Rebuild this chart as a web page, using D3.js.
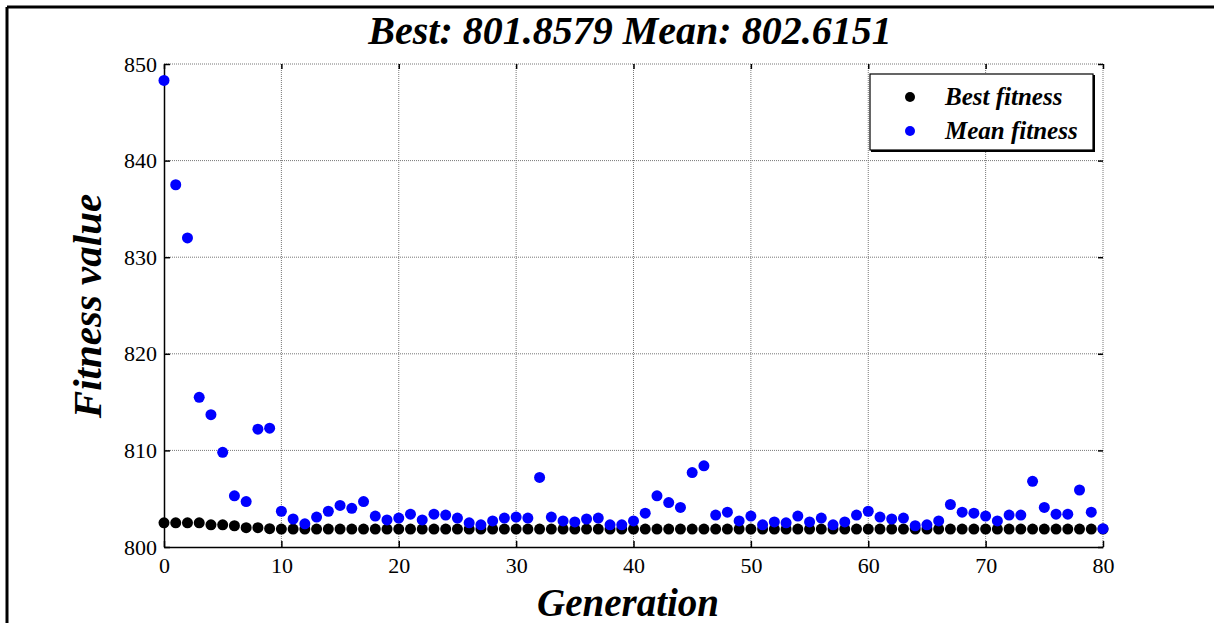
<!DOCTYPE html>
<html>
<head>
<meta charset="utf-8">
<script src="https://cdn.jsdelivr.net/npm/d3@7"></script>
<style>
  body { margin: 0; background: #fff; }
  svg text { font-family: "Liberation Serif", "DejaVu Serif", serif; }
</style>
</head>
<body>
<div id="chart"></div>
<script>
let W = 1214, H = 623;

// generations 0..80
let generations = d3.range(0, 81);
let bestFitness = [802.5, 802.5, 802.5, 802.5, 802.3, 802.3, 802.2, 802.0, 802.0, 801.9]
    .concat(d3.range(10, 81).map(() => 801.86));
let meanFitness = [
    848.3, 837.5, 832.0, 815.5, 813.7, 809.8, 805.3, 804.7, 812.2, 812.3,
    803.7, 802.9, 802.4, 803.1, 803.7, 804.3, 804.0, 804.7, 803.2, 802.8,
    803.0, 803.4, 802.8, 803.4, 803.3, 803.0, 802.5, 802.3, 802.7, 803.0,
    803.1, 803.0, 807.2, 803.1, 802.7, 802.6, 802.9, 803.0, 802.3, 802.3,
    802.7, 803.5, 805.3, 804.6, 804.1, 807.7, 808.4, 803.3, 803.6, 802.7,
    803.2, 802.3, 802.6, 802.5, 803.2, 802.6, 803.0, 802.3, 802.6, 803.3,
    803.7, 803.1, 802.9, 803.0, 802.2, 802.3, 802.7, 804.4, 803.6, 803.5,
    803.2, 802.7, 803.3, 803.3, 806.8, 804.1, 803.4, 803.4, 805.9, 803.6,
    801.9
];
let xTicks = [0, 10, 20, 30, 40, 50, 60, 70, 80];
let yTicks = [800, 810, 820, 830, 840, 850];

let serif = "'Liberation Serif', 'DejaVu Serif', serif";
let pLeft = 164, pRight = 1103, pTop = 64, pBottom = 547;

let svg = d3.select("#chart").append("svg")
    .attr("width", W).attr("height", H);

// outer frame (top and left only visible)
svg.append("line").attr("x1", 7).attr("y1", 7).attr("x2", W).attr("y2", 7)
    .attr("stroke", "#000").attr("stroke-width", 3);
svg.append("line").attr("x1", 7).attr("y1", 7).attr("x2", 7).attr("y2", H)
    .attr("stroke", "#000").attr("stroke-width", 3);

let x = d3.scaleLinear().domain([0, 80]).range([pLeft, pRight]);
let y = d3.scaleLinear().domain([800, 850]).range([pBottom, pTop]);

// grid
let grid = svg.append("g");
grid.selectAll(".gx").data(xTicks.slice(1)).enter().append("line")
    .attr("x1", d => x(d)).attr("x2", d => x(d))
    .attr("y1", pTop).attr("y2", pBottom)
    .attr("stroke", "#777").attr("stroke-width", 1).attr("stroke-dasharray", "1,1");
grid.selectAll(".gy").data(yTicks.slice(1)).enter().append("line")
    .attr("x1", pLeft).attr("x2", pRight)
    .attr("y1", d => y(d)).attr("y2", d => y(d))
    .attr("stroke", "#777").attr("stroke-width", 1).attr("stroke-dasharray", "1,1");

// axes
let xAxis = svg.append("g").attr("transform", `translate(0,${pBottom})`)
    .call(d3.axisBottom(x).tickValues(xTicks).tickSizeInner(-6).tickSizeOuter(0).tickPadding(10));
let yAxis = svg.append("g").attr("transform", `translate(${pLeft},0)`)
    .call(d3.axisLeft(y).tickValues(yTicks).tickSizeInner(-6).tickSizeOuter(0).tickPadding(7));
// mirrored ticks on top/right
svg.append("g").attr("transform", `translate(0,${pTop})`)
    .call(d3.axisTop(x).tickValues(xTicks).tickSizeInner(-5).tickSizeOuter(0).tickFormat(""))
    .select(".domain").remove();
svg.append("g").attr("transform", `translate(${pRight},0)`)
    .call(d3.axisRight(y).tickValues(yTicks).tickSizeInner(-5).tickSizeOuter(0).tickFormat(""))
    .select(".domain").remove();

[xAxis, yAxis].forEach(a => {
    a.attr("font-family", serif);
    a.select(".domain").attr("stroke", "#000").attr("stroke-width", 1.5);
    a.selectAll("text").style("font-family", serif).attr("font-size", 22).attr("fill", "#000");
});
xAxis.selectAll("text").attr("dy", "0.71em");
svg.selectAll(".tick line").attr("stroke", "#000").attr("stroke-width", 1.5);

// points
svg.append("g").selectAll("circle").data(generations).enter().append("circle")
    .attr("cx", d => x(d)).attr("cy", d => y(bestFitness[d]))
    .attr("r", 5.5).attr("fill", "#000");
svg.append("g").selectAll("circle").data(generations).enter().append("circle")
    .attr("cx", d => x(d)).attr("cy", d => y(meanFitness[d]))
    .attr("r", 5.5).attr("fill", "#0000ff");

// legend
let lg = svg.append("g");
lg.append("rect").attr("x", 870).attr("y", 74).attr("width", 223).attr("height", 76)
    .attr("fill", "#fff").attr("stroke", "#000").attr("stroke-width", 1.2);
lg.append("line").attr("x1", 1094).attr("y1", 75).attr("x2", 1094).attr("y2", 151)
    .attr("stroke", "#000").attr("stroke-width", 2);
lg.append("line").attr("x1", 871).attr("y1", 151).attr("x2", 1095).attr("y2", 151)
    .attr("stroke", "#000").attr("stroke-width", 2);
let legendItems = [["Best fitness", "#000"], ["Mean fitness", "#0000ff"]];
legendItems.forEach((it, i) => {
    let cy = 97 + i * 34;
    lg.append("circle").attr("cx", 910).attr("cy", cy).attr("r", 5).attr("fill", it[1]);
    lg.append("text").attr("x", 945).attr("y", cy + 8).text(it[0])
        .style("font-family", serif)
        .attr("font-size", 25).attr("font-weight", "bold").attr("font-style", "italic");
});

// titles
svg.append("text").attr("x", 630).attr("y", 44).attr("text-anchor", "middle")
    .style("font-family", serif)
    .attr("font-size", 40).attr("font-weight", "bold").attr("font-style", "italic")
    .text("Best: 801.8579 Mean: 802.6151");
svg.append("text").attr("x", 628).attr("y", 616).attr("text-anchor", "middle")
    .style("font-family", serif)
    .attr("font-size", 39).attr("font-weight", "bold").attr("font-style", "italic")
    .text("Generation");
svg.append("text").attr("transform", "translate(101,306) rotate(-90)").attr("text-anchor", "middle")
    .style("font-family", serif)
    .attr("font-size", 41).attr("font-weight", "bold").attr("font-style", "italic")
    .text("Fitness value");
</script>
</body>
</html>
